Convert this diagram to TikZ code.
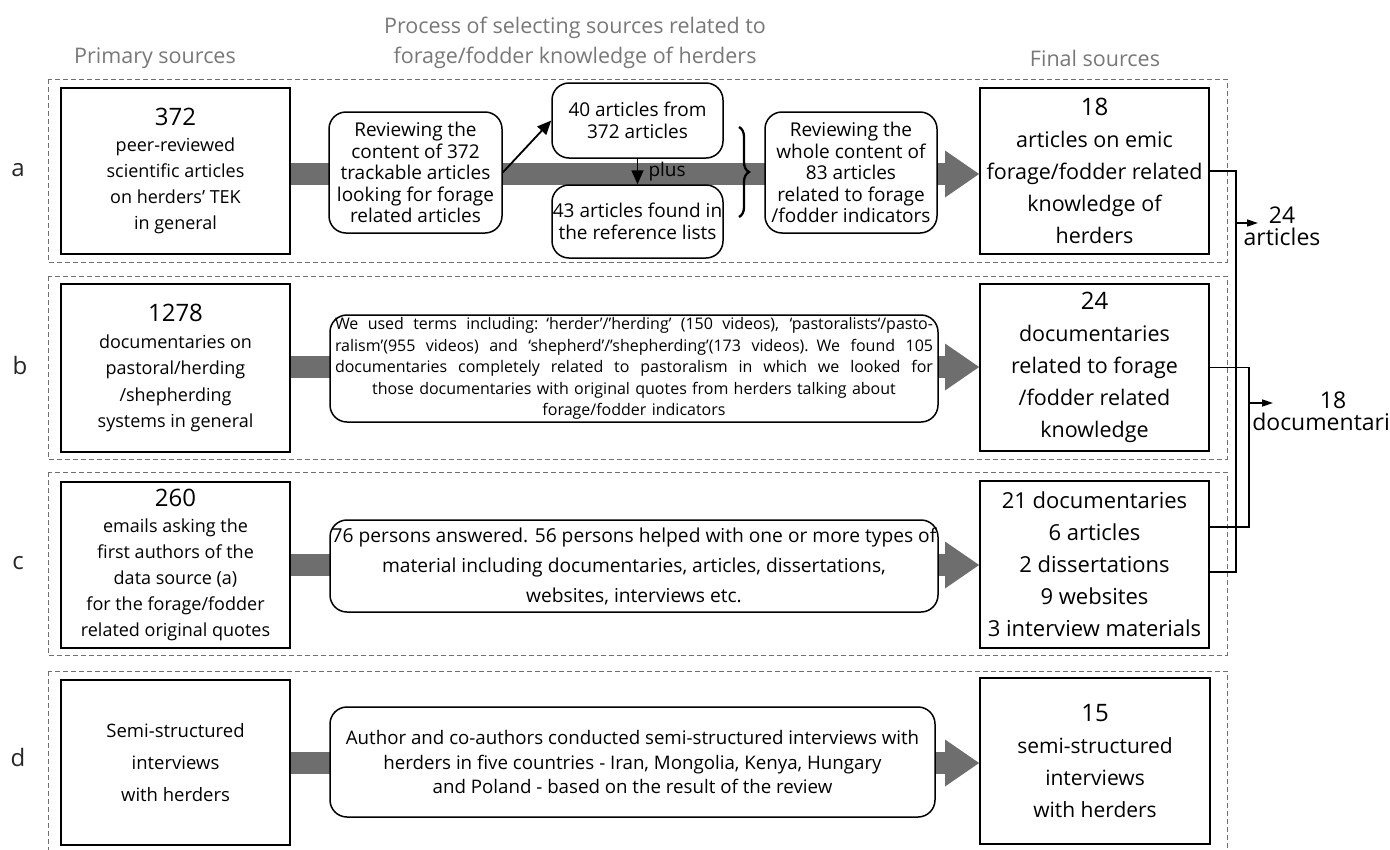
\documentclass[tikz,border=0pt]{standalone}
\usepackage{fontspec}
\setmainfont{Open Sans}
\usetikzlibrary{arrows.meta,backgrounds,decorations.pathreplacing,calc}
\definecolor{barc}{HTML}{6E6E6E}
\definecolor{hdrc}{HTML}{787878}
\definecolor{framec}{HTML}{707070}
\newcommand{\fsz}[2]{\fontsize{#1}{#2}\selectfont}
\newcommand{\fullline}[1]{\leavevmode\hbox to 598pt{\spaceskip=0.26em plus 1fil\relax #1}}
\begin{document}
\begin{tikzpicture}[x=1pt,y=-1pt,
  srcbox/.style={draw=black, line width=1.8pt, fill=white, align=center, inner sep=0pt,
                 minimum width=229pt, minimum height=166pt},
  procbox/.style={draw=black, line width=1.5pt, rounded corners=17pt, fill=white, align=center, inner sep=0pt},
  rowframe/.style={draw=framec, line width=0.9pt, dash pattern=on 5pt off 3pt},
  bar/.style={draw=barc, line width=22pt},
  hdr/.style={text=hdrc, font=\fsz{21.5}{30}, align=center},
  rowlab/.style={font=\fsz{24}{28}, text=black!85},
  blk/.style={line width=1.8pt, -{Triangle[length=14pt,width=12pt]}},
  connline/.style={line width=1.4pt},
  outarr/.style={line width=1.4pt, -{Triangle[length=11pt,width=7pt]}}
]
\useasboundingbox (0,0) rectangle (1390,849);

% headers
\node[hdr] (hp) at (155,58) {Primary sources};
\node[hdr] (hm) at (575,43) {Process of selecting sources related to\\forage/fodder knowledge of herders};
\node[hdr] (hf) at (1095,58) {Final sources};

% row frames
\draw[rowframe] (48,79) rectangle (1227,262);
\draw[rowframe] (48,276) rectangle (1227,459);
\draw[rowframe] (48,472) rectangle (1227,655);
\draw[rowframe] (48,671) rectangle (1227,870);

% row labels
\node[rowlab] (lba) at (18,170) {a};
\node[rowlab] (lbb) at (20,365) {b};
\node[rowlab] (lbc) at (18,563) {c};
\node[rowlab] (lbd) at (18,757) {d};

% ---------- row a ----------
\node[srcbox, font=\fsz{18}{26}] (la) at (175.5,171)
  {{\fsz{24}{28}372}\\peer-reviewed\\scientific articles\\on herders’ TEK\\in general};
\node[procbox, minimum width=173pt, minimum height=121pt, font=\fsz{19}{21.5}] (r1) at (415.5,172.5)
  {Reviewing the\\content of 372\\trackable articles\\looking for forage\\related articles};
\node[procbox, minimum width=171pt, minimum height=75pt, font=\fsz{19}{22}] (r40) at (637.5,120.5)
  {40 articles from\\372 articles};
\node[procbox, minimum width=171pt, minimum height=73pt, font=\fsz{19}{22}] (r43) at (637.5,221.5)
  {43 articles found in\\the reference lists};
\node[procbox, minimum width=172pt, minimum height=121pt, font=\fsz{19}{21.5}] (r83) at (851,172.5)
  {Reviewing the\\whole content of\\83 articles\\related to forage\\/fodder indicators};
\node[srcbox, font=\fsz{21.5}{32}] (fa) at (1094.5,171)
  {{\fsz{24}{32}18}\\articles on emic\\forage/fodder related\\knowledge of\\herders};
\node[font=\fsz{19}{21}, anchor=west] (pl) at (645,172) {plus};
\draw[blk] (r1.east) -- (r40.west);
\draw[blk] (r40.south) -- (r43.north);
\draw[line width=2.3pt, decorate, decoration={brace, amplitude=10pt}] (739,127) -- (739,217);

% ---------- row b ----------
\node[srcbox, minimum height=168pt, font=\fsz{18}{26.5}] (lb) at (175.5,368)
  {{\fsz{24}{28}1278}\\documentaries on\\pastoral/herding\\/shepherding\\systems in general};
\node[procbox, minimum width=608pt, minimum height=107pt, text width=598pt, font=\fsz{16}{21.5}] (mb) at (634,368.5)
  {\fullline{We used terms including: ‘herder’/’herding’ (150 videos), ‘pastoralists‘/pasto-}\\
   \fullline{ralism’(955 videos) and ‘shepherd’/’shepherding’(173 videos). We found 105}\\
   \fullline{documentaries completely related to pastoralism in which we looked for}\\
   those documentaries with original quotes from herders talking about\\
   forage/fodder indicators};
\node[srcbox, minimum height=167pt, font=\fsz{21.5}{32}] (fb) at (1094.5,367.5)
  {{\fsz{24}{32}24}\\documentaries\\related to forage\\/fodder related\\knowledge};

% ---------- row c ----------
\node[srcbox, font=\fsz{18}{26}] (lc) at (175.5,565)
  {{\fsz{24}{28}260}\\emails asking the\\first authors of the\\data source (a)\\for the forage/fodder\\related original quotes};
\node[procbox, minimum width=608pt, minimum height=92pt, font=\fsz{19.2}{30}] (mc) at (634,566)
  {76 persons answered. 56 persons helped with one or more types of\\material including documentaries, articles, dissertations,\\websites, interviews etc.};
\node[srcbox, minimum height=167pt, font=\fsz{22}{32}] (fc) at (1094.5,564.5)
  {21 documentaries\\6 articles\\2 dissertations\\9 websites\\3 interview materials};

% ---------- row d ----------
\node[srcbox, minimum height=165pt, font=\fsz{18.5}{32}] (ld) at (175.5,762.5)
  {Semi-structured\\interviews\\with herders};
\node[procbox, minimum width=605pt, minimum height=110pt, font=\fsz{18.7}{24.5}] (md) at (632.5,762)
  {Author and co-authors conducted semi-structured interviews with\\herders in five countries - Iran, Mongolia, Kenya, Hungary\\and Poland - based on the result of the review};
\node[srcbox, minimum width=230pt, font=\fsz{21}{32}] (fd) at (1095,761)
  {{\fsz{24}{32}15}\\semi-structured\\interviews\\with herders};

% ---------- gray flow bars ----------
\coordinate (hbA) at (945,174);
\coordinate (hbB) at (945,367);
\coordinate (hbC) at (945,565);
\coordinate (hbD) at (945,763);
\begin{scope}[on background layer]
  \fill[white] (0,0) rectangle (1390,849);
  \draw[bar] (la.east |- hbA) -- (hbA);
  \draw[bar] (lb.east |- hbB) -- (hbB);
  \draw[bar] (lc.east |- hbC) -- (hbC);
  \draw[bar] (ld.east |- hbD) -- (hbD);
  \fill[barc] ([yshift=23.5pt]hbA) -- (fa.west |- hbA) -- ([yshift=-23.5pt]hbA) -- cycle;
  \fill[barc] ([yshift=23.5pt]hbB) -- (fb.west |- hbB) -- ([yshift=-23.5pt]hbB) -- cycle;
  \fill[barc] ([yshift=23.5pt]hbC) -- (fc.west |- hbC) -- ([yshift=-23.5pt]hbC) -- cycle;
  \fill[barc] ([yshift=23.5pt]hbD) -- (fd.west |- hbD) -- ([yshift=-23.5pt]hbD) -- cycle;
\end{scope}

% ---------- right connectors ----------
\coordinate (busA) at (1236,572);
\coordinate (busB) at (1249,527);
\draw[connline] (fa.east) -| (busA) -- ([yshift=-7.5pt]fc.east);
\draw[connline] (fb.east) -| (busB) -- ([yshift=37.5pt]fc.east);
\coordinate (tapA) at (1236,223);
\coordinate (tipA) at (1258,223);
\coordinate (tapB) at (1249,403);
\coordinate (tipB) at (1273,403);
\draw[outarr] (tapA) -- (tipA);
\draw[outarr] (tapB) -- (tipB);
\node[font=\fsz{23}{22}, align=center] (oa) at (1282,226) {24\\articles};
\node[font=\fsz{23}{22}, align=center] (ob) at (1333,411) {18\\documentaries};
\end{tikzpicture}
\end{document}
